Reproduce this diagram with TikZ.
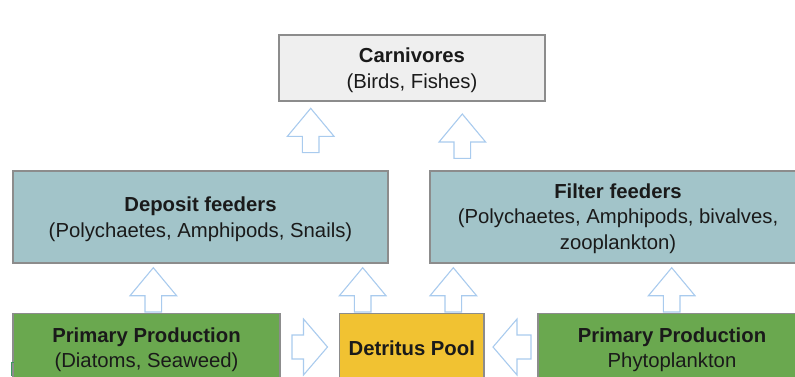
\documentclass[tikz,border=0pt]{standalone}
\usepackage{fontspec}
\setmainfont{Liberation Sans}
\definecolor{boxline}{HTML}{8C8C8C}
\definecolor{carnfill}{HTML}{EFEFEF}
\definecolor{feedfill}{HTML}{A2C4C9}
\definecolor{prodfill}{HTML}{6AA84F}
\definecolor{detfill}{HTML}{F1C232}
\definecolor{flowline}{HTML}{A9CBEE}
\definecolor{tickgreen}{HTML}{3C9A5F}
\definecolor{inktext}{HTML}{1A1A1A}
\tikzset{
  box/.style={draw=boxline, line width=1.3pt, rectangle, inner sep=0pt},
  lbl/.style={align=center, inner sep=0pt, text=inktext,
    font=\fontsize{20.3}{25.5}\selectfont},
  flow/.style={draw=flowline, fill=white, line width=1.1pt, line join=miter},
  pics/uparrow/.style={code={
    \path[flow] (0,0) -- (23.3,28) -- (8.3,28) -- (8.3,44.3) -- (-8.3,44.3)
      -- (-8.3,28) -- (-23.3,28) -- cycle;}},
  pics/rightarrow/.style={code={
    \path[flow] (0,0) -- (-24,-28) -- (-24,-12) -- (-35.5,-12) -- (-35.5,12)
      -- (-24,12) -- (-24,28) -- cycle;}},
  pics/leftarrow/.style={code={
    \path[flow] (0,0) -- (24,-28) -- (24,-12) -- (38,-12) -- (38,12)
      -- (24,12) -- (24,28) -- cycle;}}
}
\begin{document}
\begin{tikzpicture}[x=1pt,y=-1pt]
\useasboundingbox (0,0) rectangle (795,376);
\clip (0,0) rectangle (795,376);

% top level
\node[box, fill=carnfill, minimum width=266pt, minimum height=66pt] (carn) at (412,68) {};
\node[lbl] (carn-t) at ([yshift=-2pt]carn.center)
  {\textbf{Carnivores}\\(Birds, Fishes)};

% consumers
\node[box, fill=feedfill, minimum width=375pt, minimum height=92pt] (dep) at (200.5,217) {};
\node[lbl] (dep-t) at ([yshift=-2pt]dep.center)
  {\textbf{Deposit feeders}\\(Polychaetes, Amphipods, Snails)};
\node[box, fill=feedfill, minimum width=376pt, minimum height=92pt] (fil) at (618,217) {};
\node[lbl] (fil-t) at ([yshift=-1.5pt]fil.center)
  {\textbf{Filter feeders}\\(Polychaetes, Amphipods, bivalves,\\zooplankton)};

% producers and detritus
\node[box, fill=prodfill, minimum width=267pt, minimum height=68pt] (ppl) at (146.5,347.5) {};
\node[lbl] (ppl-t) at ([yshift=-2pt]ppl.center)
  {\textbf{Primary Production}\\(Diatoms, Seaweed)};
\node[box, fill=detfill, minimum width=144.5pt, minimum height=68pt] (det) at (411.75,347.5) {};
\node[lbl] (det-t) at ([yshift=-1pt]det.center) {\textbf{Detritus Pool}};
\node[box, fill=prodfill, minimum width=268pt, minimum height=68pt] (ppr) at (672,347.5) {};
\node[lbl] (ppr-t) at ([yshift=-2pt]ppr.center)
  {\textbf{Primary Production}\\Phytoplankton};

% flows up to carnivores
\pic at (310.7,108.3) {uparrow};
\pic at (462.3,114) {uparrow};

% flows up to feeders
\pic at (153.3,267.7) {uparrow};
\pic at (362.7,267.7) {uparrow};
\pic at (453.3,267.7) {uparrow};
\pic at (671.7,267.7) {uparrow};

% flows into the detritus pool
\pic at (327.5,347) {rightarrow};
\pic at (493,347) {leftarrow};

% small mark at the lower left edge
\draw[tickgreen, line width=0.8pt] (14,362) -- (11.7,362) -- (11.7,376);
\end{tikzpicture}
\end{document}
